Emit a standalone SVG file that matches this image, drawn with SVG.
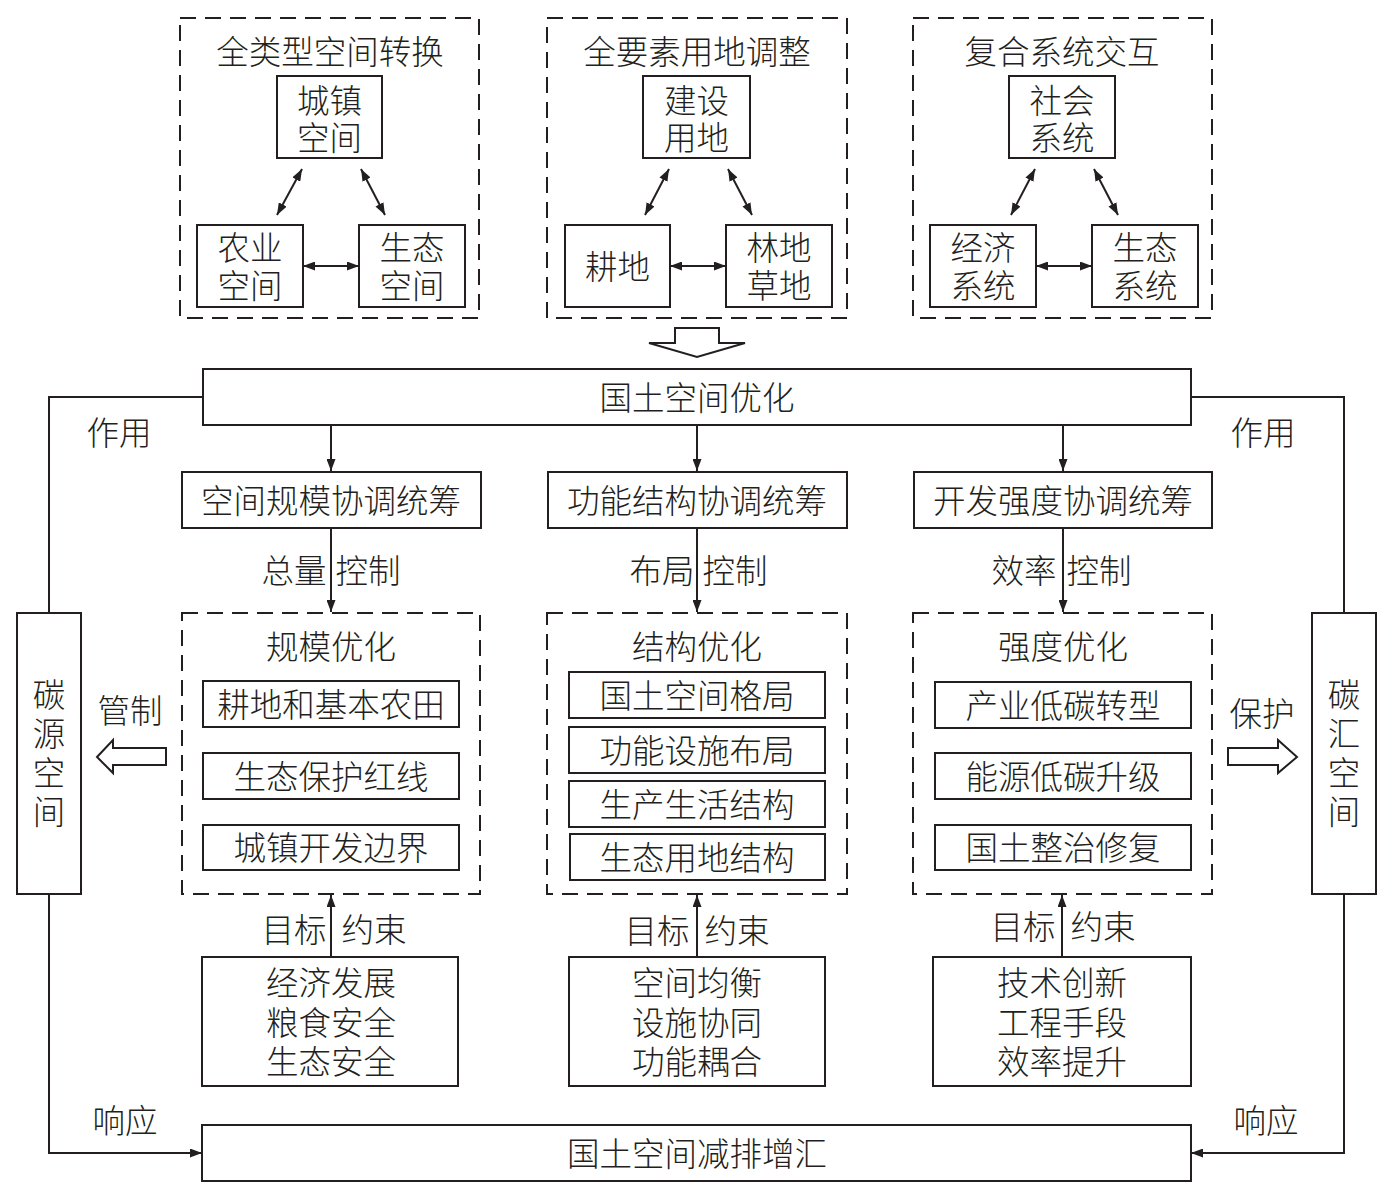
<svg xmlns="http://www.w3.org/2000/svg" width="1389" height="1193" viewBox="0 0 1389 1193">
<defs>
<style>
.t{font-family:"Noto Sans CJK SC","Noto Sans CJK JP",sans-serif;font-size:32.5px;fill:#231f20;text-anchor:middle;dominant-baseline:central;font-weight:300}
.b{fill:#fff;stroke:#231f20;stroke-width:2}
.d{fill:none;stroke:#231f20;stroke-width:2;stroke-dasharray:16 9}
.c{fill:none;stroke:#231f20;stroke-width:2}
.h{fill:#fff;stroke:#231f20;stroke-width:2;stroke-linejoin:miter}
</style>
<marker id="ah" viewBox="0 0 12 9" markerWidth="12" markerHeight="9" refX="12" refY="4.5" markerUnits="userSpaceOnUse" orient="auto-start-reverse">
<path d="M0,0 L12,4.5 L0,9 z" fill="#231f20"/>
</marker>
</defs>
<rect width="1389" height="1193" fill="#fff"/>

<g id="group-space">
<rect class="d" x="180" y="18" width="299" height="300"/>
<text class="t" x="330" y="49">全类型空间转换</text>
</g>
<g id="urban-space">
<rect class="b" x="277" y="76" width="105" height="82"/>
<text class="t" y="98"><tspan x="329.5">城镇</tspan><tspan x="329.5" dy="37">空间</tspan></text>
</g>
<g id="agri-space">
<rect class="b" x="197" y="225" width="106" height="82"/>
<text class="t" y="245"><tspan x="250">农业</tspan><tspan x="250" dy="38">空间</tspan></text>
</g>
<g id="eco-space">
<rect class="b" x="359" y="225" width="106" height="82"/>
<text class="t" y="245"><tspan x="412">生态</tspan><tspan x="412" dy="38">空间</tspan></text>
</g>

<g id="group-land">
<rect class="d" x="547" y="18" width="300" height="300"/>
<text class="t" x="697" y="49">全要素用地调整</text>
</g>
<g id="construction-land">
<rect class="b" x="643" y="76" width="107" height="82"/>
<text class="t" y="98"><tspan x="696.5">建设</tspan><tspan x="696.5" dy="37">用地</tspan></text>
</g>
<g id="farmland">
<rect class="b" x="565" y="225" width="105" height="82"/>
<text class="t" x="617.5" y="264">耕地</text>
</g>
<g id="forest-grass">
<rect class="b" x="726" y="225" width="106" height="82"/>
<text class="t" y="245"><tspan x="779">林地</tspan><tspan x="779" dy="38">草地</tspan></text>
</g>

<g id="group-system">
<rect class="d" x="913" y="18" width="299" height="300"/>
<text class="t" x="1062" y="49">复合系统交互</text>
</g>
<g id="social-system">
<rect class="b" x="1009" y="76" width="106" height="82"/>
<text class="t" y="98"><tspan x="1062">社会</tspan><tspan x="1062" dy="37">系统</tspan></text>
</g>
<g id="economic-system">
<rect class="b" x="930" y="225" width="106" height="82"/>
<text class="t" y="245"><tspan x="983">经济</tspan><tspan x="983" dy="38">系统</tspan></text>
</g>
<g id="eco-system">
<rect class="b" x="1092" y="225" width="106" height="82"/>
<text class="t" y="245"><tspan x="1145">生态</tspan><tspan x="1145" dy="38">系统</tspan></text>
</g>

<g id="down-arrow">
<polygon class="h" points="675,328 719,328 719,343 745,343 697,357 649,343 675,343"/>
</g>

<g id="optimization">
<rect class="b" x="203" y="369" width="988" height="56"/>
<text class="t" x="697" y="395">国土空间优化</text>
</g>

<g id="scale-coord">
<rect class="b" x="182" y="472" width="299" height="56"/>
<text class="t" x="331" y="498">空间规模协调统筹</text>
</g>
<g id="function-coord">
<rect class="b" x="548" y="472" width="299" height="56"/>
<text class="t" x="697" y="498">功能结构协调统筹</text>
</g>
<g id="intensity-coord">
<rect class="b" x="914" y="472" width="298" height="56"/>
<text class="t" x="1063" y="498">开发强度协调统筹</text>
</g>

<g id="scale-opt">
<rect class="d" x="182" y="613" width="298" height="281"/>
<text class="t" x="331" y="644">规模优化</text>
<rect class="b" x="203" y="681" width="256" height="46"/>
<text class="t" x="331" y="702">耕地和基本农田</text>
<rect class="b" x="203" y="753" width="256" height="46"/>
<text class="t" x="331" y="774">生态保护红线</text>
<rect class="b" x="203" y="825" width="256" height="45"/>
<text class="t" x="331" y="845">城镇开发边界</text>
</g>
<g id="structure-opt">
<rect class="d" x="547" y="613" width="300" height="281"/>
<text class="t" x="697" y="644">结构优化</text>
<rect class="b" x="569" y="672" width="256" height="46"/>
<text class="t" x="697" y="693">国土空间格局</text>
<rect class="b" x="569" y="727" width="256" height="46"/>
<text class="t" x="697" y="748">功能设施布局</text>
<rect class="b" x="569" y="781" width="256" height="46"/>
<text class="t" x="697" y="802">生产生活结构</text>
<rect class="b" x="570" y="834" width="255" height="46"/>
<text class="t" x="697" y="855">生态用地结构</text>
</g>
<g id="intensity-opt">
<rect class="d" x="913" y="613" width="299" height="281"/>
<text class="t" x="1063" y="644">强度优化</text>
<rect class="b" x="935" y="682" width="256" height="46"/>
<text class="t" x="1063" y="703">产业低碳转型</text>
<rect class="b" x="935" y="753" width="256" height="46"/>
<text class="t" x="1063" y="774">能源低碳升级</text>
<rect class="b" x="935" y="825" width="256" height="45"/>
<text class="t" x="1063" y="845">国土整治修复</text>
</g>

<g id="carbon-source">
<rect class="b" x="17" y="613" width="64" height="281"/>
<text class="t" y="692"><tspan x="49">碳</tspan><tspan x="49" dy="39">源</tspan><tspan x="49" dy="39">空</tspan><tspan x="49" dy="39">间</tspan></text>
</g>
<g id="carbon-sink">
<rect class="b" x="1312" y="613" width="64" height="281"/>
<text class="t" y="692"><tspan x="1344">碳</tspan><tspan x="1344" dy="39">汇</tspan><tspan x="1344" dy="39">空</tspan><tspan x="1344" dy="39">间</tspan></text>
</g>

<g id="goals-scale">
<rect class="b" x="202" y="957" width="256" height="129"/>
<text class="t" y="980"><tspan x="331">经济发展</tspan><tspan x="331" dy="39.5">粮食安全</tspan><tspan x="331" dy="39.5">生态安全</tspan></text>
</g>
<g id="goals-structure">
<rect class="b" x="569" y="957" width="256" height="129"/>
<text class="t" y="980"><tspan x="697">空间均衡</tspan><tspan x="697" dy="39.5">设施协同</tspan><tspan x="697" dy="39.5">功能耦合</tspan></text>
</g>
<g id="goals-intensity">
<rect class="b" x="933" y="957" width="258" height="129"/>
<text class="t" y="980"><tspan x="1062">技术创新</tspan><tspan x="1062" dy="39.5">工程手段</tspan><tspan x="1062" dy="39.5">效率提升</tspan></text>
</g>

<g id="reduction">
<rect class="b" x="202" y="1125" width="989" height="56"/>
<text class="t" x="697" y="1151">国土空间减排增汇</text>
</g>

<g id="connectors">
<line class="c" x1="302" y1="169" x2="277" y2="215" marker-start="url(#ah)" marker-end="url(#ah)"/>
<line class="c" x1="361" y1="169" x2="385" y2="215" marker-start="url(#ah)" marker-end="url(#ah)"/>
<line class="c" x1="303" y1="266" x2="359" y2="266" marker-start="url(#ah)" marker-end="url(#ah)"/>
<line class="c" x1="669" y1="169" x2="645" y2="215" marker-start="url(#ah)" marker-end="url(#ah)"/>
<line class="c" x1="728" y1="169" x2="752" y2="215" marker-start="url(#ah)" marker-end="url(#ah)"/>
<line class="c" x1="670" y1="266" x2="726" y2="266" marker-start="url(#ah)" marker-end="url(#ah)"/>
<line class="c" x1="1035" y1="169" x2="1011" y2="215" marker-start="url(#ah)" marker-end="url(#ah)"/>
<line class="c" x1="1094" y1="169" x2="1118" y2="215" marker-start="url(#ah)" marker-end="url(#ah)"/>
<line class="c" x1="1036" y1="266" x2="1092" y2="266" marker-start="url(#ah)" marker-end="url(#ah)"/>

<line class="c" x1="331" y1="425" x2="331" y2="471" marker-end="url(#ah)"/>
<line class="c" x1="697" y1="425" x2="697" y2="471" marker-end="url(#ah)"/>
<line class="c" x1="1063" y1="425" x2="1063" y2="471" marker-end="url(#ah)"/>
<line class="c" x1="331" y1="528" x2="331" y2="612" marker-end="url(#ah)"/>
<line class="c" x1="697" y1="528" x2="697" y2="612" marker-end="url(#ah)"/>
<line class="c" x1="1063" y1="528" x2="1063" y2="612" marker-end="url(#ah)"/>
<line class="c" x1="331" y1="957" x2="331" y2="895" marker-end="url(#ah)"/>
<line class="c" x1="697" y1="957" x2="697" y2="895" marker-end="url(#ah)"/>
<line class="c" x1="1062" y1="957" x2="1062" y2="895" marker-end="url(#ah)"/>

<polyline class="c" points="203,397 49,397 49,613"/>
<polyline class="c" points="1191,397 1344,397 1344,613"/>
<polyline class="c" points="49,894 49,1153 202,1153" marker-end="url(#ah)"/>
<polyline class="c" points="1344,894 1344,1153 1191,1153" marker-end="url(#ah)"/>

<polygon class="h" points="97,757 113,740 113,748 166,748 166,765 113,765 113,773"/>
<polygon class="h" points="1297,757 1278,740 1278,748 1228,748 1228,765 1278,765 1278,773"/>

<text class="t" x="119" y="430">作用</text>
<text class="t" x="1263" y="430">作用</text>
<text class="t" x="130" y="708">管制</text>
<text class="t" x="1262" y="711">保护</text>
<text class="t" x="125" y="1118">响应</text>
<text class="t" x="1266" y="1118">响应</text>

<text class="t" x="294" y="568">总量</text>
<text class="t" x="368" y="568">控制</text>
<text class="t" x="662" y="568">布局</text>
<text class="t" x="735" y="568">控制</text>
<text class="t" x="1024" y="568">效率</text>
<text class="t" x="1099" y="568">控制</text>

<text class="t" x="294" y="927">目标</text>
<text class="t" x="374" y="927">约束</text>
<text class="t" x="657" y="928">目标</text>
<text class="t" x="737" y="928">约束</text>
<text class="t" x="1023" y="924">目标</text>
<text class="t" x="1103" y="924">约束</text>
</g>
</svg>
